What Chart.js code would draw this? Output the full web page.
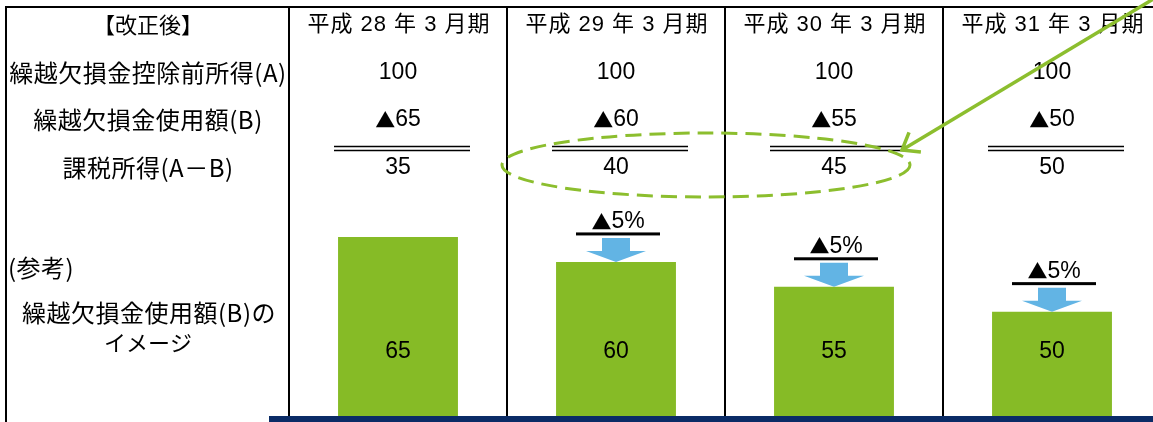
<!DOCTYPE html>
<html>
<head>
<meta charset="utf-8">
<script src="https://cdn.jsdelivr.net/npm/chart.js@4/dist/chart.umd.min.js"></script>
<style>
  html, body { margin: 0; padding: 0; background: #fff; overflow: hidden; }
  #wrap { width: 1153px; height: 422px; overflow: hidden; }
  canvas { display: block; }
</style>
</head>
<body>
<div id="wrap"><canvas id="chart" width="1166" height="422"></canvas></div>
<script>
// 表の見出しと行ラベル
const cornerTitle = '【改正後】';
const periods = ['平成 28 年 3 月期', '平成 29 年 3 月期', '平成 30 年 3 月期', '平成 31 年 3 月期'];
const rowLabels = ['繰越欠損金控除前所得(A)', '繰越欠損金使用額(B)', '課税所得(A－B)'];
const refLabels = ['(参考)', '繰越欠損金使用額(B)の', 'イメージ'];

// 数値
const incomeA = [100, 100, 100, 100];
const lossUsedB = [65, 60, 55, 50];
const taxableAB = [35, 40, 45, 50];
const cutRate = [null, 5, 5, 5];   // 前期比 ▲5%

const GREEN = '#86bb26';
const BLUE = '#62b4e4';
const NAVY = '#0a2b66';
const LINE_GREEN = '#8cbe2e';
const JP = '"Noto Sans CJK JP"';
const NUM = '"Liberation Sans", "Noto Sans CJK JP"';

function txt(ctx, s, x, y, font, align, spacing) {
  ctx.font = font;
  ctx.textAlign = align || 'center';
  ctx.textBaseline = 'middle';
  ctx.letterSpacing = spacing || '0px';
  ctx.fillText(s, x, y);
  ctx.letterSpacing = '0px';
}

// ▲ は和文フォント、数字は欧文フォントで中央揃え
function tri(ctx, s, x, y, size) {
  const fTri = (size - 3) + 'px ' + JP;
  const fNum = size + 'px ' + NUM;
  ctx.textBaseline = 'middle';
  ctx.textAlign = 'left';
  ctx.font = fTri;
  const w1 = ctx.measureText('▲').width;
  ctx.font = fNum;
  const w2 = ctx.measureText(s).width;
  const x0 = x - (w1 + w2) / 2;
  ctx.font = fTri;
  ctx.fillText('▲', x0, y);
  ctx.font = fNum;
  ctx.fillText(s, x0 + w1, y);
}

// 表の罫線・文字・矢印などを描く
const tableDecor = {
  id: 'tableDecor',
  afterDatasetsDraw(chart) {
    const { ctx, scales: { x } } = chart;
    const bars = chart.getDatasetMeta(0).data;
    const cx = periods.map((_, i) => x.getPixelForValue(i));
    ctx.save();
    ctx.fillStyle = '#000';

    // 外枠
    ctx.fillRect(5, 6, chart.width, 2);
    ctx.fillRect(5, 6, 2, chart.height);

    // 見出し行
    txt(ctx, cornerTitle, 148, 25, '22px ' + JP);
    periods.forEach((p, i) => txt(ctx, p, cx[i] + 1, 25, '22px ' + NUM, 'center', '1px'));

    // 行ラベル
    const rowY = [73, 120, 168];
    rowLabels.forEach((l, r) => txt(ctx, l, 148, rowY[r], '24px ' + JP, 'center', '0.5px'));

    // 数値
    incomeA.forEach((v, i) => txt(ctx, String(v), cx[i], rowY[0], '23px ' + NUM));
    lossUsedB.forEach((v, i) => tri(ctx, String(v), cx[i], rowY[1], 23));
    taxableAB.forEach((v, i) => txt(ctx, String(v), cx[i], rowY[2], '23px ' + NUM));

    // 二重線
    ctx.strokeStyle = '#000';
    ctx.lineWidth = 1.5;
    cx.forEach(c => {
      [146.5, 150.5].forEach(yy => {
        ctx.beginPath();
        ctx.moveTo(c + 4 - 68, yy);
        ctx.lineTo(c + 4 + 68, yy);
        ctx.stroke();
      });
    });

    // 参考ラベル
    txt(ctx, refLabels[0], 8, 268, '24px ' + JP, 'left', '0.5px');
    txt(ctx, refLabels[1], 149, 313, '24px ' + JP, 'center', '0.5px');
    txt(ctx, refLabels[2], 148, 343, '22px ' + JP);

    // 棒の中の数値
    bars.forEach((b, i) => txt(ctx, String(lossUsedB[i]), b.x, 352, '23px ' + NUM));

    // ▲5% と下向き矢印
    bars.forEach((b, i) => {
      if (cutRate[i] == null) return;
      const top = b.y;
      ctx.fillStyle = '#000';
      tri(ctx, cutRate[i] + '%', b.x + 2, top - 40, 23);
      ctx.fillRect(b.x - 40, top - 29.5, 84, 3);
      ctx.fillStyle = BLUE;
      ctx.beginPath();
      ctx.moveTo(b.x - 14, top - 24);
      ctx.lineTo(b.x + 14, top - 24);
      ctx.lineTo(b.x + 14, top - 11);
      ctx.lineTo(b.x + 30, top - 11);
      ctx.lineTo(b.x, top);
      ctx.lineTo(b.x - 30, top - 11);
      ctx.lineTo(b.x - 14, top - 11);
      ctx.closePath();
      ctx.fill();
    });

    // 点線の楕円（29年・30年の課税所得）
    ctx.strokeStyle = LINE_GREEN;
    ctx.lineWidth = 3;
    ctx.setLineDash([16, 8]);
    ctx.beginPath();
    ctx.ellipse((cx[1] + cx[2]) / 2 - 19, 165, 204, 32, 0, 0, Math.PI * 2);
    ctx.stroke();
    ctx.setLineDash([]);

    // 右上からの矢印
    const tipX = 902, tipY = 150;
    const ang = Math.atan2(-155, 258);
    ctx.lineWidth = 3.5;
    ctx.beginPath();
    ctx.moveTo(tipX + Math.cos(ang) * 320, tipY + Math.sin(ang) * 320);
    ctx.lineTo(tipX, tipY);
    ctx.stroke();
    ctx.beginPath();
    ctx.moveTo(tipX + Math.cos(ang - 0.65) * 19, tipY + Math.sin(ang - 0.65) * 19);
    ctx.lineTo(tipX, tipY);
    ctx.lineTo(tipX + Math.cos(ang + 0.65) * 19, tipY + Math.sin(ang + 0.65) * 19);
    ctx.stroke();

    // 下端の紺色の帯
    ctx.fillStyle = NAVY;
    ctx.fillRect(269, 416, chart.width, 6);
    ctx.restore();
  }
};

new Chart(document.getElementById('chart'), {
  type: 'bar',
  data: {
    labels: periods,
    datasets: [{
      data: lossUsedB,
      backgroundColor: GREEN,
      categoryPercentage: 1,
      barPercentage: 0.55
    }]
  },
  options: {
    responsive: false,
    animation: false,
    layout: { padding: { left: 289, right: 5, top: 6, bottom: 6 } },
    plugins: { legend: { display: false }, tooltip: { enabled: false } },
    scales: {
      x: {
        display: true,
        ticks: { display: false },
        grid: { color: '#000', lineWidth: 2, drawTicks: false, offset: true },
        border: { display: false }
      },
      y: { display: false, min: 29, max: 111.5 }
    }
  },
  plugins: [tableDecor]
});
</script>
</body>
</html>
